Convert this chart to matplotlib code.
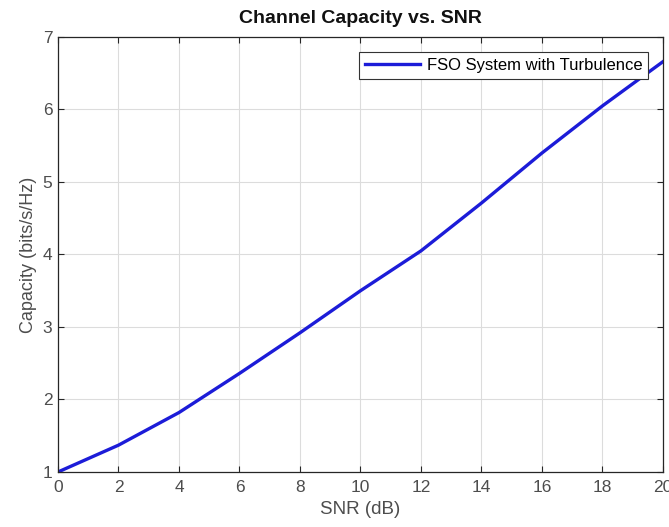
import matplotlib
matplotlib.use("Agg")
import matplotlib.pyplot as plt

snr_db = [0, 2, 4, 6, 8, 10, 12, 14, 16, 18, 20]
capacity = [1.0, 1.37, 1.82, 2.36, 2.92, 3.50, 4.05, 4.71, 5.40, 6.05, 6.66]
x_ticks = [0, 2, 4, 6, 8, 10, 12, 14, 16, 18, 20]
y_ticks = [1, 2, 3, 4, 5, 6, 7]

plt.rcParams['font.family'] = ['Liberation Sans', 'DejaVu Sans']

fig = plt.figure(figsize=(6.69, 5.27), dpi=100)
ax = fig.add_axes([0.0867, 0.1044, 0.9043, 0.8254])

ax.plot(snr_db, capacity, color='#1c1cd8', linewidth=2.4, label='FSO System with Turbulence')

ax.set_xlim(0, 20)
ax.set_ylim(1, 7)
ax.set_xticks(x_ticks)
ax.set_yticks(y_ticks)
ax.grid(True, color='#dcdcdc', linewidth=0.8)
ax.set_axisbelow(True)
ax.tick_params(direction='in', top=True, right=True, length=4, width=0.8,
               labelsize=12.5, colors='#262626', labelcolor='#4d4d4d', pad=4)
ax.tick_params(axis='x', pad=6)
for s in ax.spines.values():
    s.set_color('#262626')
    s.set_linewidth(0.9)

ax.set_xlabel('SNR (dB)', fontsize=13.5, color='#4d4d4d', labelpad=4)
ax.set_ylabel('Capacity (bits/s/Hz)', fontsize=13, color='#4d4d4d', labelpad=4)
ax.set_title('Channel Capacity vs. SNR', fontsize=14, fontweight='bold', color='#111111', pad=10)

leg = ax.legend(loc='upper right', fontsize=12, frameon=True, fancybox=False,
                borderaxespad=0.9, handlelength=3.3, borderpad=0.35, handletextpad=0.4)
leg.get_frame().set_edgecolor('#333333')
leg.get_frame().set_linewidth(0.8)
leg.get_frame().set_alpha(1)

fig.savefig('out.png', dpi=100)
